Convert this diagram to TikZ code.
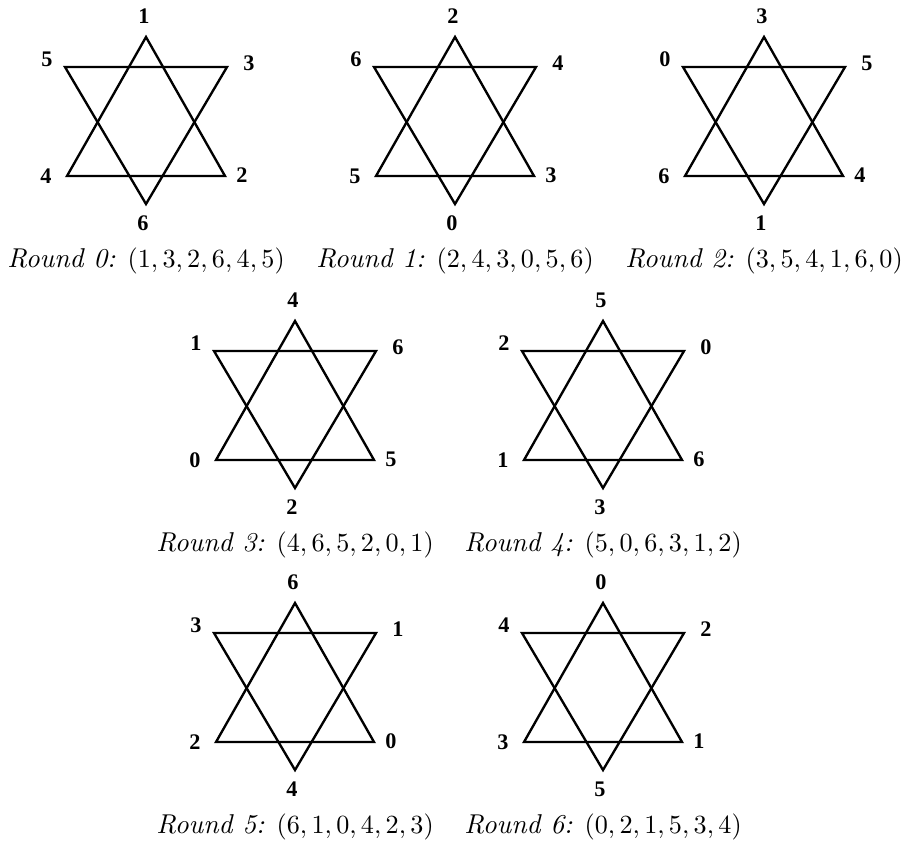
\documentclass[tikz,border=0pt]{standalone}
\usepackage{amsmath, amssymb}
\usepackage{fontspec}
\newfontfamily\vertexfont{Liberation Serif}

\begin{document}
\begin{tikzpicture}[x=0.382pt, y=-0.382pt,
    hexline/.style={line width=0.9pt},
    vlabel/.style={font=\vertexfont\bfseries\fontsize{8.5}{10}\selectfont, inner sep=0pt},
    roundlabel/.style={anchor=base, inner sep=0pt, font=\fontsize{10.4}{12}\selectfont}]
    \useasboundingbox (0,0) rectangle (907,846);
    % round / top x / top y / labels: top, upper right, lower right, bottom, lower left, upper left
    \foreach \i/\cx/\cy/\a/\b/\c/\d/\e/\f in {
        0/146/37/1/3/2/6/4/5,
        1/455/37/2/4/3/0/5/6,
        2/764/37/3/5/4/1/6/0,
        3/295/321/4/6/5/2/0/1,
        4/603/321/5/0/6/3/1/2,
        5/295/603/6/1/0/4/2/3,
        6/603/603/0/2/1/5/3/4}
    {
        \coordinate (t\i) at (\cx,\cy);
        \coordinate (ur\i) at (\cx+81,\cy+30);
        \coordinate (lr\i) at (\cx+79,\cy+139);
        \coordinate (b\i) at (\cx,\cy+167);
        \coordinate (ll\i) at (\cx-79,\cy+139);
        \coordinate (ul\i) at (\cx-81,\cy+30);
        \draw[hexline] (t\i) -- (lr\i) -- (ll\i) -- cycle;
        \draw[hexline] (ul\i) -- (ur\i) -- (b\i) -- cycle;
        \node[vlabel] (nt\i) at (\cx-2,\cy-21) {\a};
        \node[vlabel] (nur\i) at (\cx+103,\cy+26) {\b};
        \node[vlabel] (nlr\i) at (\cx+96,\cy+138) {\c};
        \node[vlabel] (nb\i) at (\cx-3,\cy+186) {\d};
        \node[vlabel] (nll\i) at (\cx-100,\cy+139) {\e};
        \node[vlabel] (nul\i) at (\cx-99,\cy+22) {\f};
        \node[roundlabel] (cap\i) at (\cx,\cy+230) {\textit{Round \i:} $(\a,\b,\c,\d,\e,\f)$};
    }
\end{tikzpicture}
\end{document}
